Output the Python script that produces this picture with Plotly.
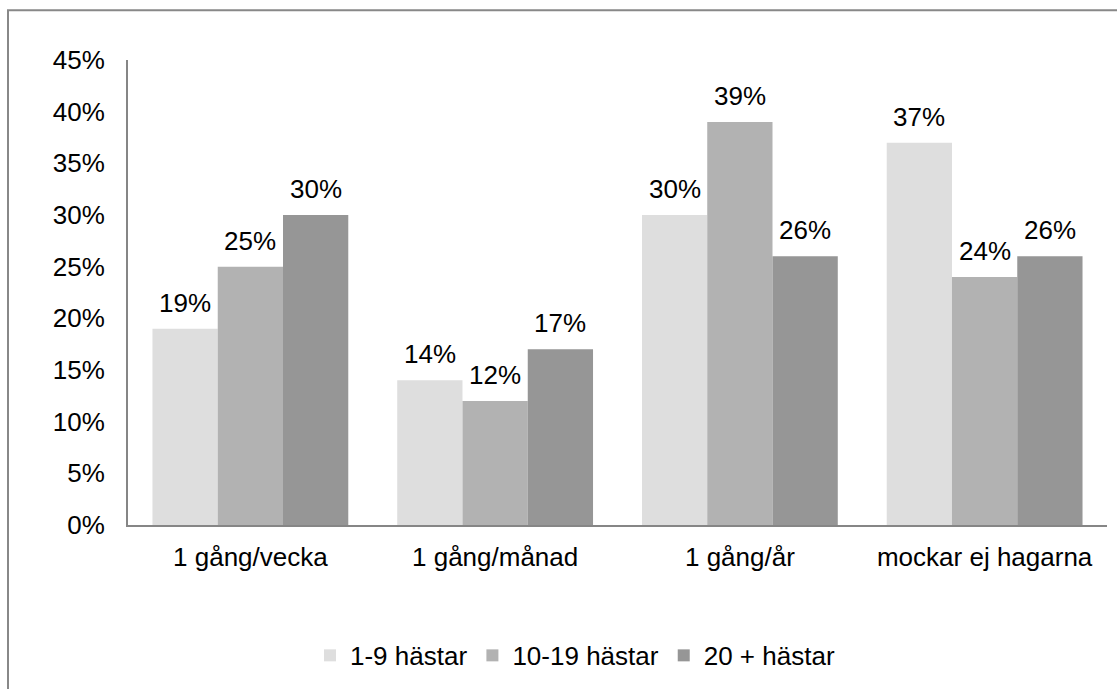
import plotly.graph_objects as go

categories = ["1 gång/vecka", "1 gång/månad", "1 gång/år", "mockar ej hagarna"]
series_names = ["1-9 hästar", "10-19 hästar", "20 + hästar"]
values_small = [19, 14, 30, 37]
values_medium = [25, 12, 39, 24]
values_large = [30, 17, 26, 26]
colors = ["#DEDEDE", "#B2B2B2", "#969696"]
y_ticks = [0, 5, 10, 15, 20, 25, 30, 35, 40, 45]

FONT = "Liberation Sans, Arial, sans-serif"
FS = 26
W, H = 1117, 689
L, R, T, B = 128, 10, 60, 162
BARGAP = 0.2

all_series = [values_small, values_medium, values_large]

fig = go.Figure()
for name, vals, col in zip(series_names, all_series, colors):
    fig.add_trace(go.Bar(
        x=categories, y=vals, name=name,
        marker=dict(color=col, line=dict(width=0)),
        hoverinfo="x+y+name",
    ))

# value labels above each bar, offset sideways to the bar's slot in its group
pw, ph = W - L - R, H - T - B
slot_px = pw / len(categories) * (1 - BARGAP) / len(all_series)
for si, vals in enumerate(all_series):
    dx = (si - (len(all_series) - 1) / 2) * slot_px
    for cat, v in zip(categories, vals):
        fig.add_annotation(x=cat, y=v, text=f"{v}%", showarrow=False,
                           xshift=dx, yshift=9, yanchor="bottom",
                           font=dict(size=FS, family=FONT, color="#000000"))

# outer chart frame
fig.add_shape(type="rect", xref="paper", yref="paper",
              x0=(8 - L) / pw, x1=(W + 20 - L) / pw,
              y0=-(H + 20 - T - ph) / ph, y1=1 + (T - 10) / ph,
              line=dict(color="#888888", width=2), fillcolor="rgba(0,0,0,0)", layer="below")

fig.update_layout(
    width=W, height=H,
    margin=dict(l=L, r=R, t=T, b=B),
    paper_bgcolor="white", plot_bgcolor="white",
    barmode="group", bargap=BARGAP, bargroupgap=0,
    font=dict(family=FONT, size=FS, color="#000000"),
    showlegend=True,
    legend=dict(orientation="h", x=(575 - L) / pw, xanchor="center", y=-0.23, yanchor="top",
                font=dict(size=FS, family=FONT), itemwidth=30, traceorder="normal"),
)
fig.update_xaxes(showline=True, linecolor="#868686", linewidth=2, showgrid=False,
                 ticks="outside", ticklen=8, tickcolor="rgba(0,0,0,0)",
                 tickfont=dict(size=FS, family=FONT))
fig.update_yaxes(range=[0, 45], tickvals=y_ticks, ticktext=[f"{v}%" for v in y_ticks],
                 showline=True, linecolor="#868686", linewidth=2, showgrid=False,
                 zeroline=False, ticks="outside", ticklen=16, tickcolor="rgba(0,0,0,0)",
                 tickfont=dict(size=FS, family=FONT))

fig.write_html("out.html")
